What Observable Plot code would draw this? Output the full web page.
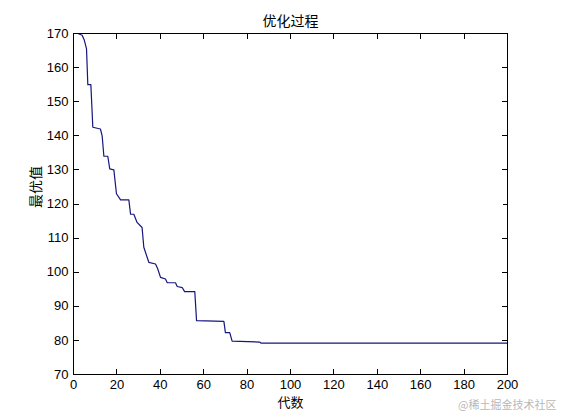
<!DOCTYPE html>
<html>
<head>
<meta charset="utf-8">
<script src="https://cdn.jsdelivr.net/npm/d3@7"></script>
<script src="https://cdn.jsdelivr.net/npm/@observablehq/plot@0.6"></script>
<style>
  html, body { margin: 0; padding: 0; background: #fff; }
  #chart { width: 561px; height: 420px; }
</style>
</head>
<body>
<div id="chart"></div>
<script>
// Generation (代数) and best value (最优值)
const generations = [0, 2, 4, 5, 6, 6.6, 8, 8.9, 12.4, 13.2, 14, 15.8, 16.7, 18.6, 19.8, 21.7, 25.5, 26.3, 27.8, 29.3, 31.6, 32.4, 34.7, 37.8, 38.8, 40.1, 42.4, 43.2, 47, 47.8, 50.1, 51.2, 55.9, 56.7, 69.3, 70, 72, 73.1, 85.8, 86.5, 200];
const bestValues = [170, 170, 169.5, 168, 165.5, 155, 155, 142.5, 142, 140, 134, 134, 130.3, 130, 123, 121.2, 121.2, 117, 117, 114.6, 113.1, 107.3, 102.9, 102.4, 101, 98.5, 98, 96.9, 96.9, 95.8, 95.5, 94.3, 94.3, 85.8, 85.6, 82.3, 82.3, 79.8, 79.5, 79.2, 79.2];
const xTicks = [0, 20, 40, 60, 80, 100, 120, 140, 160, 180, 200];
const yTicks = [70, 80, 90, 100, 110, 120, 130, 140, 150, 160, 170];
const titleText = "优化过程";
const xLabel = "代数";
const yLabel = "最优值";
const watermark = "@稀土掘金技术社区";

const data = generations.map((g, i) => ({g, v: bestValues[i]}));
const font = "'Liberation Sans', Arial, Helvetica, sans-serif";
const cjk = "'Noto Sans CJK SC', sans-serif";

// plain straight tick (no arrowhead) for inward-pointing MATLAB-style ticks
const tickShape = {draw(context, l) { context.moveTo(0, 0); context.lineTo(0, -l); }};
const tickOpts = {length: 5, anchor: "start", shape: tickShape, stroke: "#000", strokeWidth: 1, shapeRendering: "crispEdges"};

const chart = Plot.plot({
  width: 561,
  height: 420,
  marginLeft: 73,
  marginRight: 54,
  marginTop: 33,
  marginBottom: 46,
  style: {fontFamily: font, fontSize: "13px", color: "#000", background: "#fff"},
  x: {domain: [0, 200]},
  y: {domain: [70, 170]},
  marks: [
    Plot.axisX(xTicks, {tickSize: 0, tickPadding: 5, label: null, fontSize: 13}),
    Plot.axisY(yTicks, {tickSize: 0, tickPadding: 5, label: null, fontSize: 13}),
    Plot.vectorY(xTicks, {x: d => d, y: null, frameAnchor: "bottom", rotate: 0, ...tickOpts}),
    Plot.vectorY(xTicks, {x: d => d, y: null, frameAnchor: "top", rotate: 180, ...tickOpts}),
    Plot.vectorX(yTicks, {y: d => d, x: null, frameAnchor: "left", rotate: 90, ...tickOpts}),
    Plot.vectorX(yTicks, {y: d => d, x: null, frameAnchor: "right", rotate: -90, ...tickOpts}),
    Plot.line(data, {x: "g", y: "v", stroke: "#16167e", strokeWidth: 1.2}),
    Plot.frame({stroke: "#000", strokeWidth: 1}),
    Plot.text([titleText], {frameAnchor: "top", dy: -17, fontSize: 14, fontFamily: cjk, fill: "#000"}),
    Plot.text([xLabel], {frameAnchor: "bottom", dy: 32, fontSize: 13, fontFamily: cjk, fill: "#000"}),
    Plot.text([yLabel], {frameAnchor: "left", dx: -37, dy: 4, rotate: -90, fontSize: 14, fontFamily: cjk, fill: "#000"}),
    Plot.text([watermark], {frameAnchor: "bottom-right", dx: 49, dy: 34, textAnchor: "end", fontSize: 11, fontFamily: cjk, fill: "#b8b8b8"})
  ]
});
document.getElementById("chart").appendChild(chart);
</script>
</body>
</html>
